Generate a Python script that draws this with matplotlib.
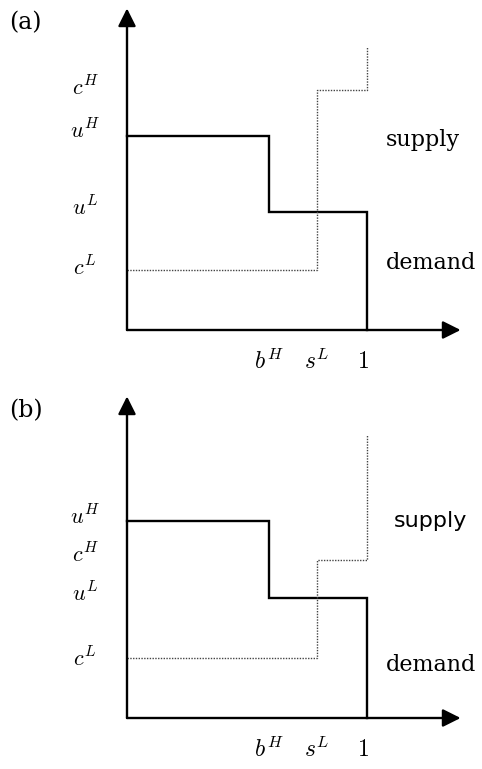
import matplotlib
matplotlib.use('Agg')
import matplotlib.pyplot as plt

plt.rcParams['mathtext.fontset'] = 'cm'

# step levels (x in units of the "1" mark)
b_H = 0.59
s_L = 0.79
top_supply = 1.18
panels = ['(a)', '(b)']
u_H = [0.81, 0.82]
u_L = [0.49, 0.50]
c_L = [0.25, 0.25]
c_H = [1.00, 0.66]
y_labels = [['$c^H$', '$u^H$', '$u^L$', '$c^L$'],
            ['$u^H$', '$c^H$', '$u^L$', '$c^L$']]
x_labels = ['$b^H$', '$s^L$', '$1$']
curve_names = ['supply', 'demand']

W, H = 482, 769
fig = plt.figure(figsize=(W / 100, H / 100), dpi=100)

def px_axes(top, bottom, axis_y):
    # one axes per panel, data units: 240 px per unit, origin at the corner
    ax = fig.add_axes([0, 1 - bottom / H, 1, (bottom - top) / H])
    ax.set_xlim(-127 / 240, (W - 127) / 240)
    ax.set_ylim((axis_y - bottom) / 240, (axis_y - top) / 240)
    ax.axis('off')
    return ax

panel_px = [(0, 380, 330), (380, 769, 718)]
label_y = [[1.01, 0.83, 0.51, 0.26], [0.84, 0.68, 0.52, 0.25]]
name_y = [[0.79, 0.28], [0.82, 0.22]]
supply_font = ['DejaVu Serif', 'DejaVu Sans']
supply_x = [1.08, 1.11]

for i in range(2):
    ax = px_axes(*panel_px[i])
    arrow = dict(arrowstyle='-|>', lw=1.7, color='k', mutation_scale=27,
                 shrinkA=0, shrinkB=0)
    ax.annotate('', xy=(0, 1.34), xytext=(0, 0), arrowprops=arrow)
    ax.annotate('', xy=(1.39, 0), xytext=(0, 0), arrowprops=arrow)

    # demand: solid step down
    dx = [0, b_H, b_H, 1, 1]
    dy = [u_H[i], u_H[i], u_L[i], u_L[i], 0]
    ax.plot(dx, dy, color='k', lw=1.7, solid_joinstyle='miter')
    # supply: dotted step up
    sx = [0, s_L, s_L, 1, 1]
    sy = [c_L[i], c_L[i], c_H[i], c_H[i], top_supply]
    ax.plot(sx, sy, color='#444444', lw=1.0, linestyle=(0, (1, 1)))

    for lab, yy in zip(y_labels[i], label_y[i]):
        ax.text(-0.175, yy, lab, fontsize=16, ha='center', va='center')
    for lab, xx in zip(x_labels, [b_H, s_L, 0.985]):
        ax.text(xx, -0.13, lab, fontsize=17, ha='center', va='center')

    ax.text(supply_x[i], name_y[i][0], 'supply', fontsize=16,
            family=supply_font[i], ha='left', va='center')
    ax.text(1.08, name_y[i][1], 'demand', fontsize=16,
            family='DejaVu Serif', ha='left', va='center')

    ax.text(-0.49, 1.28, panels[i], fontsize=17, family='DejaVu Serif',
            ha='left', va='center')

fig.savefig('out.png', dpi=100)
